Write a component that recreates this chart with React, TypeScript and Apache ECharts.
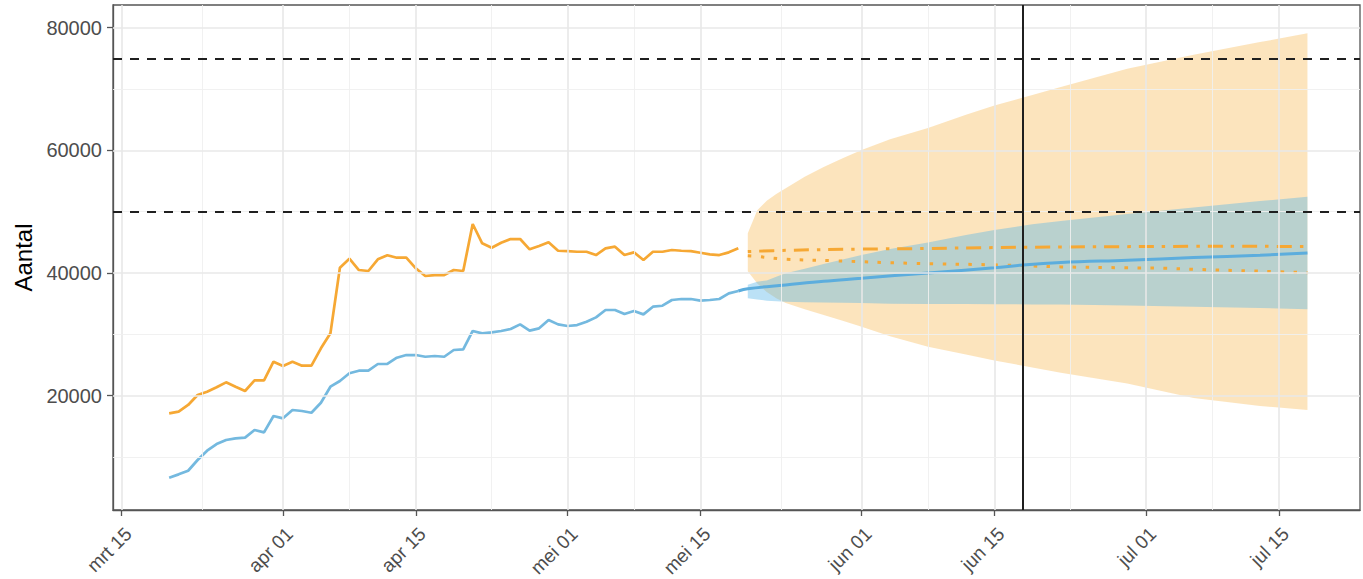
import React, { useEffect, useRef } from "react";
import * as echarts from "echarts";

// Day index: days since 1 March (mrt 15 = 14)
const xTickDays = [14, 31, 45, 61, 75, 92, 106, 122, 136];
const xTickLabels = ["mrt 15", "apr 01", "apr 15", "mei 01", "mei 15", "jun 01", "jun 15", "jul 01", "jul 15"];
const xMinorDays = [22.5, 38, 53, 68, 83.5, 99, 114, 129];
const yTicks = [20000, 40000, 60000, 80000];
const yMinor = [10000, 30000, 50000, 70000];
const thresholds = [50000, 75000];
const markerDay = 109;

const observedStart = 19;
const orangeObserved = [
  17130, 17400, 18490, 20110, 20660, 21370, 22180, 21470, 20770, 22510,
  22510, 25540, 24840, 25540, 24890, 24890, 27730, 30170, 40860, 42330,
  40490, 40330, 42230, 42890, 42500, 42500, 40770, 39510, 39670, 39670,
  40490, 40330, 47990, 44840, 44120, 44940, 45540, 45540, 43860, 44400,
  45000, 43630, 43580, 43470, 43470, 42930, 44020, 44290, 42930, 43370,
  42120, 43470, 43470, 43750, 43630, 43580, 43310, 43040, 42930, 43370,
  44020,
];
const blueObserved = [
  6640, 7180, 7770, 9520, 11040, 12120, 12780, 13050, 13160, 14410,
  14030, 16690, 16310, 17670, 17510, 17230, 18860, 21470, 22400, 23650,
  24080, 24080, 25170, 25170, 26190, 26630, 26630, 26350, 26470, 26350,
  27450, 27560, 30550, 30170, 30330, 30550, 30870, 31630, 30600, 30980,
  32340, 31630, 31360, 31520, 32060, 32770, 33970, 33970, 33320, 33800,
  33260, 34510, 34670, 35600, 35760, 35760, 35490, 35600, 35760, 36690,
  37070,
];

const bandDays = [80, 81, 82, 83, 84, 86, 88, 90, 92, 95, 99, 103, 106, 110, 113, 120, 127, 134, 139];
const orangeUpper = [46500, 50250, 51800, 52900, 53800, 55700, 57300, 58700, 60050, 61800, 63640, 65800, 67300, 69000, 70320, 73280, 75600, 77640, 79070];
const orangeLower = [40300, 38300, 36900, 35900, 35110, 34100, 33150, 32200, 31250, 29700, 27990, 26700, 25750, 24600, 23760, 21990, 19620, 18320, 17670];
const blueUpper = [38100, 38560, 38800, 39400, 39950, 40700, 41470, 42200, 42930, 43900, 44990, 46200, 47010, 47950, 48480, 49620, 50690, 51720, 52440];
const blueLower = [35900, 35700, 35500, 35400, 35320, 35250, 35200, 35150, 35100, 35000, 34950, 34930, 34920, 34880, 34850, 34700, 34500, 34300, 34080];

const blueFcDays = [79, 80, 84, 88, 92, 99, 106, 109, 113, 120, 127, 134, 139];
const blueFc = [37070, 37450, 38050, 38650, 39140, 40020, 40850, 41300, 41700, 42090, 42510, 42900, 43250];

const dotdashDays = [80, 84, 92, 99, 106, 113, 120, 127, 134, 139];
const orangeDotdash = [43500, 43700, 43900, 44000, 44150, 44250, 44300, 44350, 44350, 44300];

const dottedDays = [80, 81, 84, 89, 97, 107, 110, 113, 120, 124, 127, 134, 139];
const orangeDotted = [42800, 42700, 42250, 42000, 41600, 41300, 41150, 41000, 40850, 40770, 40600, 40300, 40050];

const ORANGE = "#F6A834";
const BLUE = "#74B9DF";
const BLUE_FC = "#5CADDD";
const FONT = "Liberation Sans, Arial, sans-serif";

const pairs = (days: number[], vals: number[]) => days.map((d, i) => [d, vals[i]]);

const bandSeries = (name: string, upper: number[], lower: number[], fill: string, z: number) => ({
  name,
  type: "custom",
  silent: true,
  z,
  data: pairs(bandDays, lower),
  encode: { x: 0, y: 1 },
  renderItem: (params: any, api: any) => {
    if (params.dataIndex !== 0) return null;
    const top = bandDays.map((d, i) => api.coord([d, upper[i]]));
    const bottom = bandDays.map((d, i) => api.coord([d, lower[i]])).reverse();
    return {
      type: "polygon",
      shape: { points: [...top, ...bottom] },
      style: { fill, stroke: "none" },
    };
  },
});

export default function App() {
  const ref = useRef<HTMLDivElement>(null);
  useEffect(() => {
    if (!ref.current) return;
    const chart = echarts.init(ref.current, undefined, { renderer: "svg" });
    const obsDays = orangeObserved.map((_, i) => observedStart + i);

    const gridLines = [
      ...xTickDays.map((d) => ({ xAxis: d, lineStyle: { color: "#E8E8E8", width: 1.6, type: "solid" } })),
      ...xMinorDays.map((d) => ({ xAxis: d, lineStyle: { color: "#EFEFEF", width: 0.9, type: "solid" } })),
      ...yTicks.map((v) => ({ yAxis: v, lineStyle: { color: "#E8E8E8", width: 1.6, type: "solid" } })),
      ...yMinor.map((v) => ({ yAxis: v, lineStyle: { color: "#EFEFEF", width: 0.9, type: "solid" } })),
    ];

    const option: any = {
      animation: false,
      grid: {
        left: 113,
        right: 3,
        top: 5,
        bottom: 69,
        outerBoundsMode: "none",
        containLabel: false,
        show: true,
        borderColor: "#555555",
        borderWidth: 1.3,
        backgroundColor: "transparent",
      },
      xAxis: {
        type: "value",
        min: 13.08,
        max: 144.54,
        splitLine: { show: false },
        axisLine: { show: true, lineStyle: { color: "#555555", width: 1.3 } },
        axisTick: {
          show: true,
          customValues: xTickDays,
          length: 6,
          lineStyle: { color: "#555555", width: 1.3 },
        },
        axisLabel: {
          customValues: xTickDays,
          rotate: 45,
          margin: 14,
          verticalAlign: "top",
          color: "#4D4D4D",
          fontSize: 19,
          fontFamily: FONT,
          formatter: (v: number) => {
            const i = xTickDays.indexOf(Math.round(v));
            return i >= 0 ? xTickLabels[i] : "";
          },
        },
      },
      yAxis: {
        type: "value",
        min: 1370,
        max: 83690,
        name: "Aantal",
        nameLocation: "middle",
        nameGap: 78,
        nameTextStyle: { color: "#000000", fontSize: 24, fontFamily: FONT },
        splitLine: { show: false },
        axisLine: { show: true, lineStyle: { color: "#555555", width: 1.3 } },
        axisTick: {
          show: true,
          customValues: yTicks,
          length: 6,
          lineStyle: { color: "#555555", width: 1.3 },
        },
        axisLabel: {
          customValues: yTicks,
          margin: 11,
          color: "#4D4D4D",
          fontSize: 20,
          fontFamily: FONT,
          formatter: (v: number) => String(v),
        },
      },
      series: [
        {
          name: "grid",
          type: "line",
          data: [],
          z: 1,
          silent: true,
          markLine: {
            silent: true,
            symbol: ["none", "none"],
            label: { show: false },
            animation: false,
            data: gridLines,
          },
        },
        bandSeries("orangeBand", orangeUpper, orangeLower, "rgba(245,166,35,0.30)", 2),
        bandSeries("blueBand", blueUpper, blueLower, "rgba(86,180,233,0.40)", 3),
        {
          name: "orangeDotdash",
          type: "line",
          data: pairs(dotdashDays, orangeDotdash),
          smooth: 0.4,
          showSymbol: false,
          lineStyle: { color: ORANGE, width: 3, type: [3.5, 8, 15, 8], cap: "butt" },
          z: 4,
        },
        {
          name: "orangeDotted",
          type: "line",
          data: pairs(dottedDays, orangeDotted),
          smooth: 0.4,
          showSymbol: false,
          lineStyle: { color: ORANGE, width: 3, type: [3.5, 9.5], cap: "butt" },
          z: 4,
        },
        {
          name: "blueForecast",
          type: "line",
          data: pairs(blueFcDays, blueFc),
          smooth: 0.4,
          showSymbol: false,
          lineStyle: { color: BLUE_FC, width: 3 },
          z: 4,
        },
        {
          name: "orangeObserved",
          type: "line",
          data: pairs(obsDays, orangeObserved),
          showSymbol: false,
          lineStyle: { color: ORANGE, width: 2.7 },
          z: 4,
        },
        {
          name: "blueObserved",
          type: "line",
          data: pairs(obsDays, blueObserved),
          showSymbol: false,
          lineStyle: { color: BLUE, width: 2.7 },
          z: 4,
        },
        {
          name: "refs",
          type: "line",
          data: [],
          z: 5,
          silent: true,
          markLine: {
            silent: true,
            symbol: ["none", "none"],
            label: { show: false },
            animation: false,
            data: [
              ...thresholds.map((v) => ({
                yAxis: v,
                lineStyle: { color: "#1F1F1F", width: 2, type: [9, 8] },
              })),
              { xAxis: markerDay, lineStyle: { color: "#1F1F1F", width: 2, type: "solid" } },
            ],
          },
        },
      ],
    };
    chart.setOption(option);
    return () => chart.dispose();
  }, []);

  return (
    <div
      ref={ref}
      style={{ position: "absolute", left: 0, top: 0, width: 1363, height: 579, background: "#ffffff" }}
    />
  );
}
